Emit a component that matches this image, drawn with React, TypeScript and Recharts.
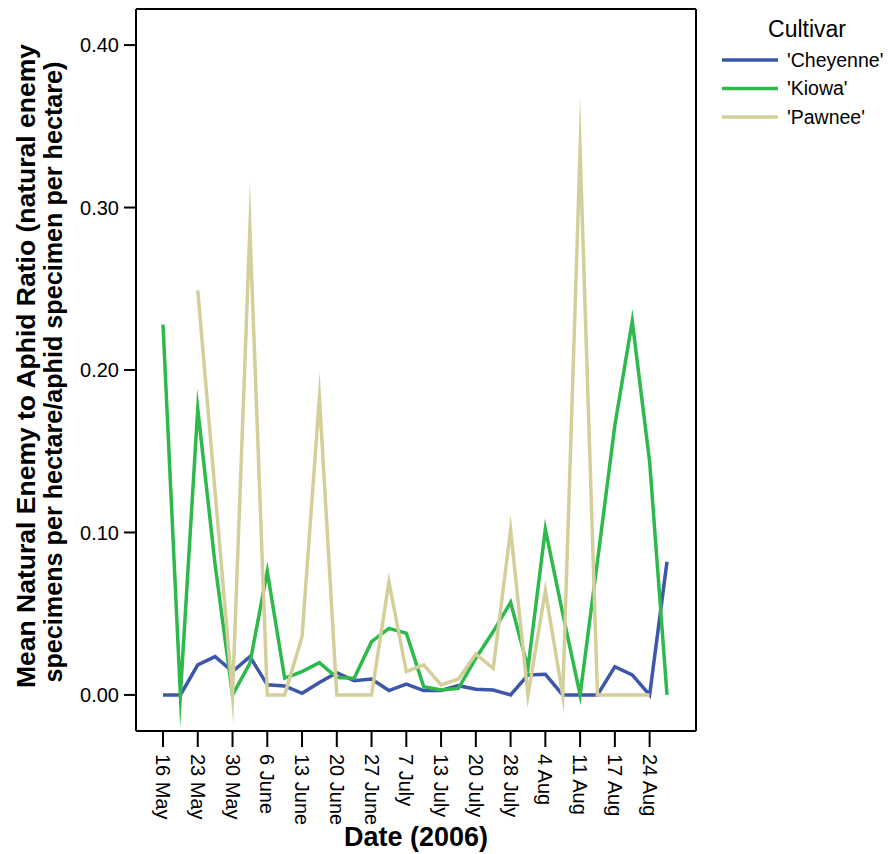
import { LineChart, Line, XAxis, YAxis, Legend } from 'recharts';

// sampling dates labelled on the axis (every other sample)
const tickLabels = [
  '16 May', '23 May', '30 May', '6 June', '13 June', '20 June', '27 June', '7 July',
  '13 July', '20 July', '28 July', '4 Aug', '11 Aug', '17 Aug', '24 Aug',
];
const tickSamples = [0, 2, 4, 6, 8, 10, 12, 14, 16, 18, 20, 22, 24, 26, 28];
const yTicks = [0, 0.1, 0.2, 0.3, 0.4];

// mean natural enemy : aphid ratio per sample
const cheyenne = [
  0, 0, 0.0185, 0.0236, 0.0144, 0.0236, 0.0062, 0.0055, 0.001, 0.0076,
  0.0137, 0.0088, 0.0098, 0.0027, 0.0066, 0.0027, 0.0027, 0.0057, 0.0035, 0.003,
  0, 0.0123, 0.0127, 0, 0, 0, 0.0174, 0.0123, 0, 0.082,
];
const kiowa = [
  0.228, 0, 0.176, 0.08, 0, 0.0195, 0.076, 0.0103, 0.0144, 0.0199,
  0.0107, 0.0103, 0.0328, 0.041, 0.038, 0.0051, 0.003, 0.004, 0.0226, 0.039,
  0.057, 0.0166, 0.102, 0.05, 0, 0.0825, 0.166, 0.23, 0.1436, 0,
];
const pawnee = [
  null, null, 0.249, 0.1246, 0, 0.287, 0, 0, 0.0359, 0.183,
  0, 0, 0, 0.0695, 0.0144, 0.0185, 0.0062, 0.0098, 0.0252, 0.0164,
  0.1015, 0, 0.064, 0, 0.335, 0, 0, 0, 0, null,
];

const FONT = '"Liberation Sans", Arial, Helvetica, sans-serif';

const data = cheyenne.map((c, i) => ({
  sample: i,
  cheyenne: c,
  kiowa: kiowa[i],
  pawnee: pawnee[i],
}));

function DateTick({ x, y, payload }: any) {
  const label = tickLabels[tickSamples.indexOf(payload.value)];
  return (
    <text
      transform={`translate(${x},${y + 3}) rotate(90)`}
      textAnchor="start"
      dominantBaseline="central"
      fontSize={20}
      fontFamily={FONT}
      fill="#000"
    >
      {label}
    </text>
  );
}

function CultivarLegend({ payload }: any) {
  return (
    <svg width={188} height={140} style={{ display: 'block' }}>
      <text x={107} y={37} textAnchor="middle" fontSize={23} fontFamily={FONT} fill="#000">
        Cultivar
      </text>
      {(payload || []).map((p: any, i: number) => {
        const y = 60 + i * 28.5;
        return (
          <g key={p.value}>
            <line x1={22} x2={78} y1={y} y2={y} stroke={p.color} strokeWidth={3.5} />
            <text x={87} y={y + 6.5} fontSize={19.5} fontFamily={FONT} fill="#000">
              {p.value}
            </text>
          </g>
        );
      })}
    </svg>
  );
}

const lineProps = {
  type: 'linear' as const,
  strokeWidth: 3.5,
  dot: false,
  activeDot: false,
  isAnimationActive: false,
  strokeLinejoin: 'miter' as const,
  strokeMiterlimit: 80,
};

export default function App() {
  return (
    <div style={{ width: 888, height: 854, background: '#fff' }}>
      <style>{'body{margin:0} .recharts-line-curve{stroke-linejoin:miter;stroke-miterlimit:80}'}</style>
      <LineChart width={888} height={854} data={data} margin={{ top: 8, right: 191, bottom: 0, left: 0 }}>
        <XAxis
          dataKey="sample"
          type="number"
          domain={[0, 29]}
          ticks={tickSamples}
          interval={0}
          padding={{ left: 27, right: 29 }}
          height={123}
          tickSize={16}
          tickMargin={4}
          tick={<DateTick />}
          axisLine={{ stroke: '#000', strokeWidth: 2 }}
          tickLine={{ stroke: '#000', strokeWidth: 2 }}
          label={{
            content: () => (
              <text x={416} y={846} textAnchor="middle" fontSize={27} fontWeight="bold" fontFamily={FONT} fill="#000">
                Date (2006)
              </text>
            ),
          }}
        />
        {/* frame: top and right edges of the plot box */}
        <XAxis
          xAxisId="top"
          orientation="top"
          dataKey="sample"
          type="number"
          domain={[0, 29]}
          height={1}
          tick={false}
          tickLine={false}
          axisLine={{ stroke: '#000', strokeWidth: 2 }}
        />
        <YAxis
          type="number"
          domain={[-0.0222, 0.4222]}
          allowDataOverflow
          ticks={yTicks}
          interval={0}
          width={136}
          tickSize={12}
          tickMargin={5}
          tickFormatter={(v: number) => v.toFixed(2)}
          tick={{ fontSize: 20, fontFamily: FONT, fill: '#000' }}
          axisLine={{ stroke: '#000', strokeWidth: 2 }}
          tickLine={{ stroke: '#000', strokeWidth: 2 }}
          label={{
            content: () => (
              <g fontFamily={FONT} fontWeight="bold" fontSize={25} fill="#000">
                <text
                  transform="translate(35,366) rotate(-90)"
                  textAnchor="middle"
                  textLength={644}
                  lengthAdjust="spacingAndGlyphs"
                >
                  Mean Natural Enemy to Aphid Ratio (natural enemy
                </text>
                <text
                  transform="translate(62,372) rotate(-90)"
                  textAnchor="middle"
                  textLength={621}
                  lengthAdjust="spacingAndGlyphs"
                >
                  specimens per hectare/aphid specimen per hectare)
                </text>
              </g>
            ),
          }}
        />
        <YAxis
          yAxisId="right"
          orientation="right"
          type="number"
          domain={[-0.0222, 0.4222]}
          width={1}
          tick={false}
          tickLine={false}
          axisLine={{ stroke: '#000', strokeWidth: 2 }}
        />
        <Legend
          layout="vertical"
          align="center"
          verticalAlign="middle"
          wrapperStyle={{ left: 700, top: 0, width: 188, height: 140 }}
          content={<CultivarLegend />}
        />
        <Line {...lineProps} dataKey="cheyenne" name="'Cheyenne'" stroke="#3C56AA" />
        <Line {...lineProps} dataKey="kiowa" name="'Kiowa'" stroke="#2DB94B" />
        <Line {...lineProps} dataKey="pawnee" name="'Pawnee'" stroke="#D4CF9A" />
      </LineChart>
    </div>
  );
}
